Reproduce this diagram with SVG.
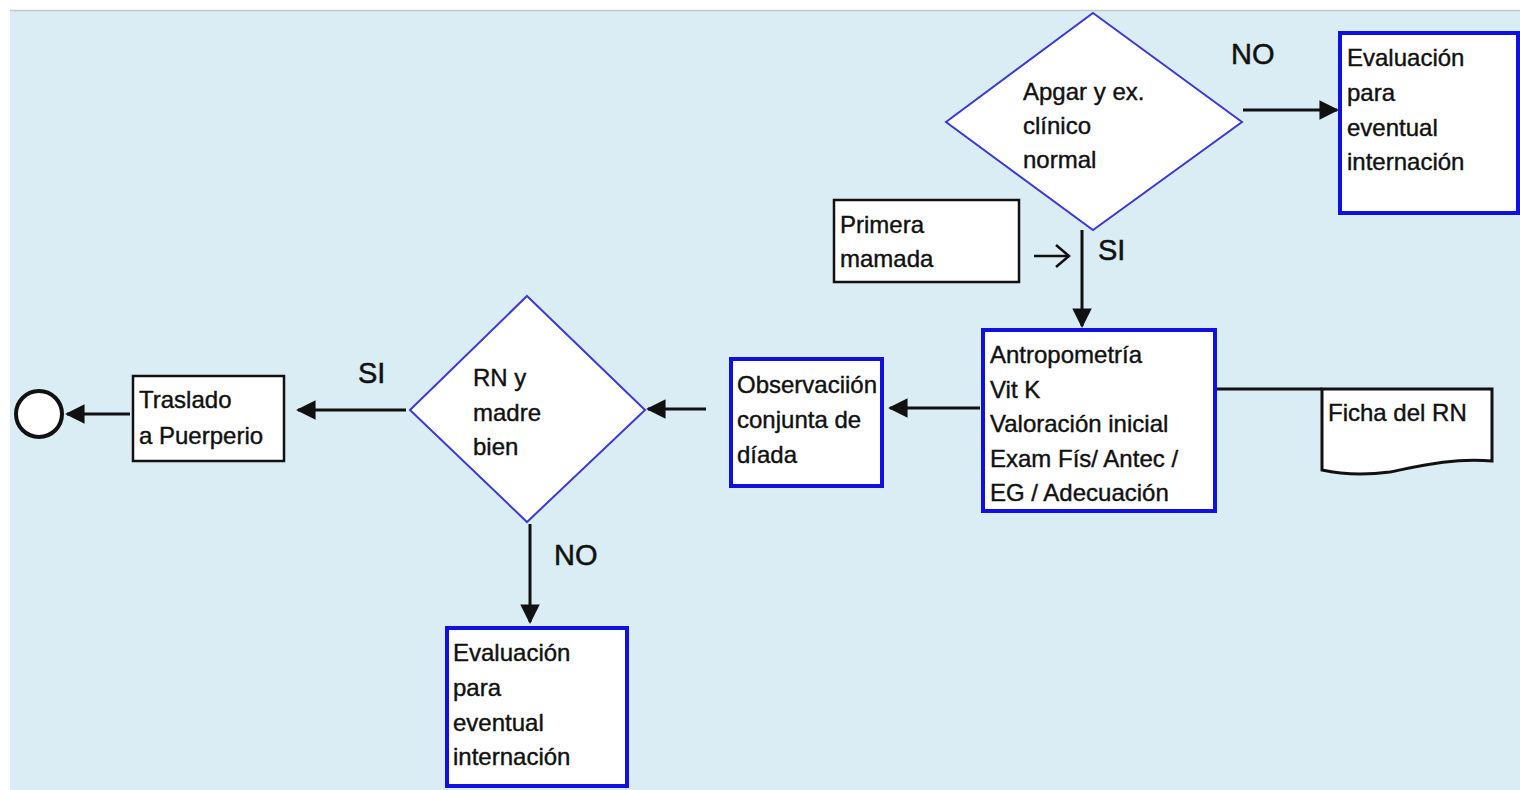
<svg xmlns="http://www.w3.org/2000/svg" width="1520" height="790" viewBox="0 0 1520 790">
<defs>
<style>
.t{font-family:"Liberation Sans",Arial,sans-serif;font-size:24px;fill:#111;stroke:#111;stroke-width:0.4}
.lbl{font-family:"Liberation Sans",Arial,sans-serif;font-size:29px;fill:#111;stroke:#111;stroke-width:0.5}
.bb{fill:#fff;stroke:#1010e0;stroke-width:4}
.kb{fill:#fff;stroke:#111;stroke-width:2.5}
.dm{fill:#fff;stroke:#3a3ad8;stroke-width:2}
.c{fill:none;stroke:#111;stroke-width:3}
</style>
<marker id="ah" viewBox="0 0 10 10" refX="9" refY="5" markerWidth="6.5" markerHeight="6.5" orient="auto" markerUnits="strokeWidth">
<path d="M0,0 L10,5 L0,10 z" fill="#111"/>
</marker>
</defs>
<rect x="0" y="0" width="1520" height="790" fill="#fff"/>
<rect x="10" y="11" width="1510" height="779" fill="#daedf4"/>
<line x1="10" y1="10.5" x2="1520" y2="10.5" stroke="#c8c8c8" stroke-width="1.5"/>

<g id="connectors">
<line class="c" x1="1243" y1="110" x2="1337" y2="110" marker-end="url(#ah)"/>
<line class="c" x1="1082" y1="230" x2="1082" y2="326" marker-end="url(#ah)"/>
<path d="M1034,256 L1068,256 M1056,245 L1069,256 L1056,267" fill="none" stroke="#111" stroke-width="2.5"/>
<line class="c" x1="1216" y1="389" x2="1322" y2="389"/>
<line class="c" x1="980" y1="408" x2="890" y2="408" marker-end="url(#ah)"/>
<line class="c" x1="706" y1="409" x2="648" y2="409" marker-end="url(#ah)"/>
<line class="c" x1="406" y1="410" x2="298" y2="410" marker-end="url(#ah)"/>
<line class="c" x1="130" y1="414" x2="67" y2="414" marker-end="url(#ah)"/>
<line class="c" x1="530" y1="524" x2="530" y2="622" marker-end="url(#ah)"/>
<text class="lbl" x="1231" y="64">NO</text>
<text class="lbl" x="1098" y="260">SI</text>
<text class="lbl" x="358" y="383">SI</text>
<text class="lbl" x="554" y="565">NO</text>
</g>

<g id="apgar">
<polygon class="dm" points="1093,13 1242,122 1093,230 946,122"/>
<text class="t" x="1023" y="100">Apgar y ex.</text>
<text class="t" x="1023" y="134">clínico</text>
<text class="t" x="1023" y="168">normal</text>
</g>

<g id="eval-top">
<rect class="bb" x="1340" y="33" width="178" height="180"/>
<text class="t" x="1347" y="66">Evaluación</text>
<text class="t" x="1347" y="101">para</text>
<text class="t" x="1347" y="136">eventual</text>
<text class="t" x="1347" y="170">internación</text>
</g>

<g id="primera">
<rect class="kb" x="834" y="200" width="185" height="82"/>
<text class="t" x="840" y="233">Primera</text>
<text class="t" x="840" y="267">mamada</text>
</g>

<g id="antropometria">
<rect class="bb" x="983" y="330" width="232" height="181"/>
<text class="t" x="990" y="363">Antropometría</text>
<text class="t" x="990" y="398">Vit K</text>
<text class="t" x="990" y="432">Valoración inicial</text>
<text class="t" x="990" y="467">Exam Fís/ Antec /</text>
<text class="t" x="990" y="501">EG / Adecuación</text>
</g>

<g id="ficha">
<path d="M1322,389 L1492,389 L1492,461 C1450,458 1420,466 1390,472 C1360,476 1340,474 1322,470 Z" fill="#fff" stroke="#111" stroke-width="3"/>
<text class="t" x="1328" y="421">Ficha del RN</text>
</g>

<g id="observacion">
<rect class="bb" x="731" y="359" width="151" height="127"/>
<text class="t" x="737" y="393">Observaciión</text>
<text class="t" x="737" y="428">conjunta de</text>
<text class="t" x="737" y="463">díada</text>
</g>

<g id="rn-madre">
<polygon class="dm" points="527,296 645,410 527,522 410,410"/>
<text class="t" x="473" y="386">RN y</text>
<text class="t" x="473" y="421">madre</text>
<text class="t" x="473" y="455">bien</text>
</g>

<g id="traslado">
<rect class="kb" x="133" y="376" width="151" height="85"/>
<text class="t" x="139" y="408">Traslado</text>
<text class="t" x="139" y="444">a Puerperio</text>
</g>

<g id="fin">
<circle cx="39" cy="414" r="23" fill="#fff" stroke="#111" stroke-width="4"/>
</g>

<g id="eval-bottom">
<rect class="bb" x="447" y="628" width="180" height="158"/>
<text class="t" x="453" y="661">Evaluación</text>
<text class="t" x="453" y="696">para</text>
<text class="t" x="453" y="731">eventual</text>
<text class="t" x="453" y="765">internación</text>
</g>
</svg>
